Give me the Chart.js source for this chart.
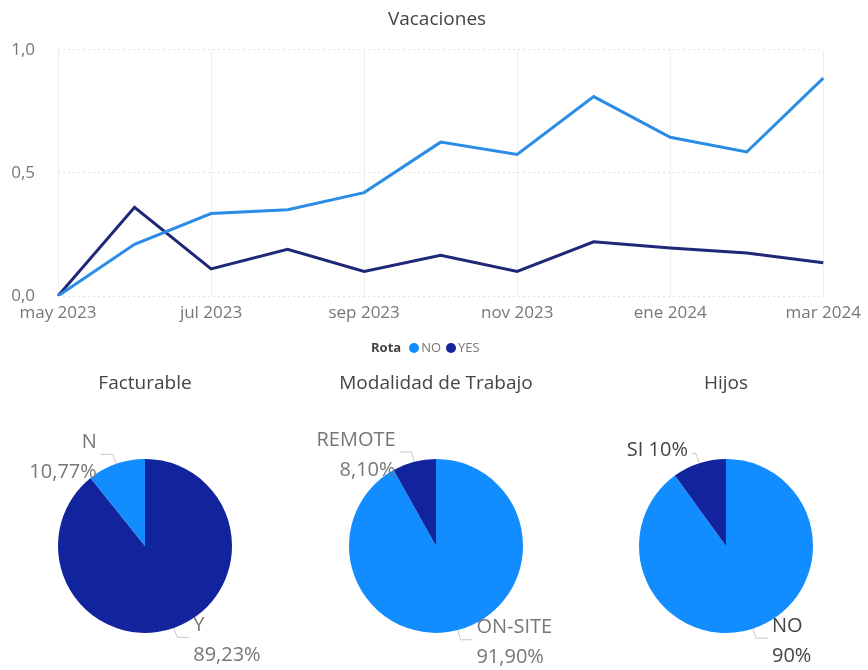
<!DOCTYPE html>
<html>
<head>
<meta charset="utf-8">
<script src="https://cdn.jsdelivr.net/npm/chart.js@4.4.0/dist/chart.umd.min.js"></script>
<style>
  body { margin: 0; background: #fff; width: 868px; height: 670px; position: relative; overflow: hidden; font-family: "Open Sans", sans-serif; }
  .box { position: absolute; }
  #legend { position: absolute; top: 339px; left: 371px; font-size: 13px; color: #777; white-space: nowrap; line-height: 16px; }
  #legend b { color: #444; margin-right: 3px; }
  #legend .dot { display: inline-block; width: 10px; height: 10px; border-radius: 50%; margin: 0 2px 0 5px; vertical-align: -1px; }
</style>
</head>
<body>
<div class="box" style="left:0;top:0;width:868px;height:340px"><canvas id="lineChart"></canvas></div>
<div id="legend"><b>Rota</b><span class="dot" style="background:#118DFF"></span>NO<span class="dot" style="background:#12239E"></span>YES</div>
<div class="box" style="left:0;top:360px;width:290px;height:310px"><canvas id="pieFact"></canvas></div>
<div class="box" style="left:291px;top:360px;width:290px;height:310px"><canvas id="pieModal"></canvas></div>
<div class="box" style="left:584px;top:360px;width:284px;height:310px"><canvas id="pieHijos"></canvas></div>

<script>
// Datos del gráfico de líneas
const months = ['may 2023', 'jun 2023', 'jul 2023', 'ago 2023', 'sep 2023', 'oct 2023',
                'nov 2023', 'dic 2023', 'ene 2024', 'feb 2024', 'mar 2024'];
const vacNo  = [0, 0.21, 0.335, 0.35, 0.42, 0.625, 0.575, 0.81, 0.645, 0.585, 0.885];
const vacYes = [0, 0.36, 0.11, 0.19, 0.10, 0.165, 0.10, 0.22, 0.195, 0.175, 0.135];
const yTicks = [0, 0.5, 1];

// Datos de las tartas
const factLabels  = ['Y', 'N'];
const factValues  = [89.23, 10.77];
const modalLabels = ['ON-SITE', 'REMOTE'];
const modalValues = [91.90, 8.10];
const hijosLabels = ['NO', 'SI'];
const hijosValues = [90, 10];

const LIGHT = '#118DFF';
const DARK = '#12239E';
const FONT = '"Open Sans", sans-serif';

Chart.defaults.font.family = FONT;
Chart.defaults.color = '#777';

const fmtNum = (v, dec) => v.toFixed(dec).replace('.', ',');

// Gráfico de líneas: Vacaciones
new Chart(document.getElementById('lineChart'), {
    type: 'line',
    data: {
        labels: months,
        datasets: [
            { label: 'NO', data: vacNo, borderColor: '#2b8ce6', borderWidth: 3, pointRadius: 0, tension: 0 },
            { label: 'YES', data: vacYes, borderColor: '#1f2878', borderWidth: 3, pointRadius: 0, tension: 0 }
        ]
    },
    options: {
        responsive: true,
        maintainAspectRatio: false,
        animation: false,
        layout: { padding: { left: 6, right: 0, top: 0, bottom: 0 } },
        plugins: {
            legend: { display: false },
            tooltip: { enabled: false },
            title: {
                display: true,
                text: 'Vacaciones',
                color: '#444',
                font: { size: 19, weight: 'normal' },
                padding: { top: 8, bottom: 19 }
            }
        },
        scales: {
            x: {
                afterFit: (scale) => { scale.height = 44; },
                grid: { color: '#eeeeee', tickLength: 0, drawTicks: false },
                border: { display: false },
                ticks: {
                    autoSkip: false,
                    maxRotation: 0,
                    padding: 7,
                    font: { size: 17 },
                    color: '#777',
                    callback: function (val, i) { return i % 2 === 0 ? this.getLabelForValue(val) : null; }
                }
            },
            y: {
                min: 0,
                max: 1,
                afterFit: (scale) => { scale.width = 52; },
                afterBuildTicks: (scale) => { scale.ticks = yTicks.map(v => ({ value: v })); },
                grid: { color: '#e2e2e2', drawTicks: false },
                border: { display: false, dash: [2, 3] },
                ticks: {
                    padding: 23,
                    font: { size: 17 },
                    color: '#777',
                    callback: (v) => fmtNum(v, 1)
                }
            }
        }
    }
});

// Plugin para etiquetas exteriores con línea guía
const outLabels = {
    id: 'outLabels',
    afterDraw(chart, args, opts) {
        const ctx = chart.ctx;
        const meta = chart.getDatasetMeta(0);
        const ds = chart.data.datasets[0];
        meta.data.forEach((arc, i) => {
            const p = arc.getProps(['x', 'y', 'startAngle', 'endAngle', 'outerRadius'], true);
            const mid = (p.startAngle + p.endAngle) / 2;
            const c = Math.cos(mid), s = Math.sin(mid);
            const r = p.outerRadius;
            const x0 = p.x + c * r, y0 = p.y + s * r;
            const x1 = p.x + c * (r + 10), y1 = p.y + s * (r + 10);
            const right = c >= 0;
            const single = opts.oneLine && !right;
            const seg = single ? 4 : 12;
            const x2 = x1 + (right ? seg : -seg);
            ctx.save();
            ctx.strokeStyle = '#c8c8c8';
            ctx.lineWidth = 1;
            ctx.beginPath();
            ctx.moveTo(x0, y0);
            ctx.lineTo(x1, y1);
            ctx.lineTo(x2, y1);
            ctx.stroke();
            ctx.fillStyle = opts.color;
            ctx.font = '20px ' + FONT;
            ctx.textAlign = right ? 'left' : 'right';
            ctx.textBaseline = 'middle';
            const tx = x2 + (right ? 4 : -4);
            const label = chart.data.labels[i];
            const pct = fmtNum(ds.data[i], opts.decimals) + '%';
            if (single) {
                ctx.fillText(label + ' ' + pct, tx, y1 - 3);
            } else {
                ctx.fillText(label, tx, y1 - 12);
                ctx.fillText(pct, tx, y1 + 18);
            }
            ctx.restore();
        });
    }
};

function drawPie(id, title, labels, values, colors, decimals, oneLine, labelColor) {
    new Chart(document.getElementById(id), {
        type: 'pie',
        data: {
            labels: labels,
            datasets: [{ data: values, backgroundColor: colors, borderWidth: 0 }]
        },
        options: {
            responsive: true,
            maintainAspectRatio: false,
            animation: false,
            radius: 87,
            layout: { padding: { top: 0, bottom: 23, left: 0, right: 0 } },
            plugins: {
                legend: { display: false },
                tooltip: { enabled: false },
                title: {
                    display: true,
                    text: title,
                    color: '#444',
                    font: { size: 19, weight: 'normal' },
                    padding: { top: 12, bottom: 50 }
                },
                outLabels: { decimals: decimals, oneLine: oneLine, color: labelColor }
            }
        },
        plugins: [outLabels]
    });
}

drawPie('pieFact', 'Facturable', factLabels, factValues, [DARK, LIGHT], 2, false, '#777');
drawPie('pieModal', 'Modalidad de Trabajo', modalLabels, modalValues, [LIGHT, DARK], 2, false, '#777');
drawPie('pieHijos', 'Hijos', hijosLabels, hijosValues, [LIGHT, DARK], 0, true, '#444');
</script>
</body>
</html>
